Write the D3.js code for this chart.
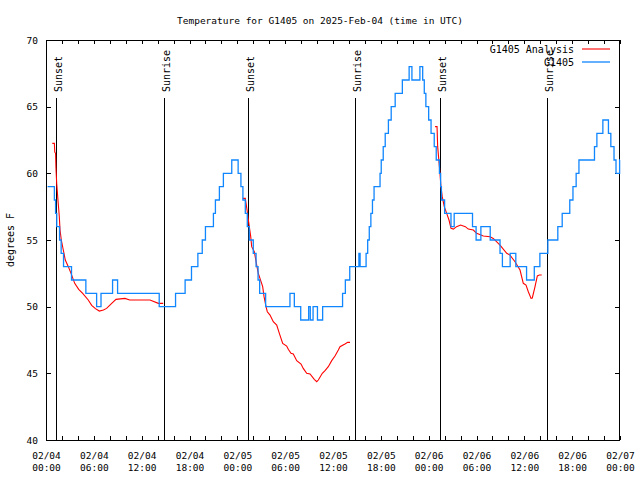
<!DOCTYPE html>
<html><head><meta charset="utf-8">
<script src="https://cdn.jsdelivr.net/npm/d3@7"></script>
<style>
body{margin:0;background:#fff}
svg{display:block;background:#fff}
text{font-family:"DejaVu Sans Mono","Liberation Mono",monospace;fill:#000}
</style>
</head><body>
<svg id="chart" width="640" height="480"></svg>
<script>
// ---------- data ----------
const chartTitle = "Temperature for G1405 on 2025-Feb-04 (time in UTC)";
const yAxisLabel = "degrees F";
const seriesNames = ["G1405 Analysis", "G1405"];
const seriesColors = ["#ff0000", "#1086ff"];
const startUTC = Date.UTC(2025, 1, 4, 0, 0);   // hours below are counted from here
const xDomainHours = [0, 72];
const yDomain = [40, 70];
const yTickValues = [40, 45, 50, 55, 60, 65, 70];
const xLabelHours = [0, 6, 12, 18, 24, 30, 36, 42, 48, 54, 60, 66, 72];
const xMinorHours = d3.range(0, 73, 2);
const sunEventNames = ["Sunset", "Sunrise", "Sunset", "Sunrise", "Sunset", "Sunrise"];
const sunEventHours = [1.28, 14.84, 25.36, 38.8, 49.41, 62.84];

// G1405 observations: [hour, °F] (value holds until next entry)
const observed = [
  [0.2,59],[1.05,58],[1.2,57],[1.35,56],[1.7,55],[1.9,54],[2.2,53],[3.2,52],[5.0,51],
  [6.35,50],[6.9,51],[8.35,52],[8.98,51],[14.2,50],[16.25,51],[17.45,52],[18.25,53],
  [19.05,54],[19.6,55],[20.0,56],[21.0,57],[21.25,58],[21.75,59],[22.25,60],[23.3,61],
  [24.1,60],[24.45,59],[24.7,58],[25.0,57],[25.25,56],[25.5,55],[26.0,54],[26.35,53],
  [26.6,52],[26.8,51],[27.55,50],[30.6,51],[31.15,50],[31.95,49],[32.95,50],[33.15,49],
  [33.5,50],[34.05,49],[34.7,50],[37.2,51],[37.55,52],[38.1,53],[39.25,54],[39.4,53],
  [40.15,54],[40.35,55],[40.55,56],[40.75,57],[40.95,58],[41.15,59],[41.9,60],[42.05,61],
  [42.3,62],[42.55,63],[42.95,64],[43.3,65],[43.8,66],[44.7,67],[45.55,68],[45.9,67],
  [46.9,68],[47.25,67],[47.45,66],[47.65,65],[48.0,64],[48.3,63],[48.7,62],[48.95,61],
  [49.35,60],[49.5,59],[49.6,58],[50.0,57],[50.8,56],[51.2,57],[53.5,56],[53.95,55],
  [54.55,56],[55.72,55],[56.95,54],[57.25,53],[58.22,54],[58.93,53],[60.28,52],[61.25,53],
  [61.95,54],[62.95,55],[64.2,56],[64.75,57],[65.7,58],[66.1,59],[66.5,60],[66.85,61],
  [68.8,62],[69.1,63],[69.85,64],[70.55,63],[70.85,62],[71.25,61],[71.5,60],[71.95,61],[72,61]
];

// G1405 Analysis: three runs of [hour, °F]
const analysisRun1 = [
  [0.79,62.25],[1.05,62.25],[1.1,61.6],[1.2,61.5],[1.25,60.4],[1.34,59.25],[1.5,58.0],
  [1.67,56.75],[1.76,55.75],[1.92,55.0],[2.17,54.25],[2.42,53.5],[2.8,53.0],[3.14,52.5],
  [3.6,51.75],[4.1,51.3],[4.6,51.0],[5.3,50.5],[5.73,50.1],[6.2,49.85],[6.69,49.67],
  [7.2,49.75],[7.6,49.87],[8.24,50.25],[8.78,50.55],[9.9,50.62],[10.5,50.5],[13.05,50.5],
  [14.09,50.25],[14.7,50.25]
];
const analysisRun2 = [
  [24.67,58.12],[25.0,58.12],[25.25,57.12],[25.5,56.0],[25.68,55.25],[25.8,54.5],[26.13,54.12],
  [26.43,53.12],[26.63,52.5],[26.84,52.12],[27.18,51.5],[27.35,50.75],[27.6,50.0],[27.76,49.62],
  [28.1,49.37],[28.51,48.87],[28.94,48.62],[29.27,48.0],[29.69,47.25],[30.19,47.05],[30.39,46.8],
  [30.73,46.5],[31.02,46.45],[31.45,45.95],[31.99,45.7],[32.27,45.37],[32.7,45.0],[33.12,44.95],
  [33.65,44.55],[33.96,44.37],[34.16,44.5],[34.66,45.0],[35.0,45.2],[35.41,45.5],[35.84,45.95],
  [36.25,46.3],[36.67,46.75],[36.88,47.0],[37.5,47.2],[37.84,47.32],[38.13,47.32]
];
const analysisRun3 = [
  [48.8,63.5],[49.05,63.5],[49.13,62.0],[49.42,60.0],[49.54,59.0],[49.7,58.25],[49.96,57.5],
  [50.26,57.0],[50.55,56.5],[50.8,55.87],[51.1,55.82],[51.5,56.0],[52.0,56.12],[52.6,56.0],
  [52.97,55.82],[53.6,55.75],[54.02,55.5],[54.86,55.3],[55.7,55.25],[56.1,55.12],[56.95,54.62],
  [57.79,54.0],[58.2,53.87],[58.83,53.37],[59.46,52.75],[59.87,51.75],[60.21,51.62],[60.5,51.12],
  [60.84,50.62],[61.0,50.65],[61.34,51.5],[61.63,52.3],[61.88,52.37],[62.18,52.37]
];
const analysisRuns = [analysisRun1, analysisRun2, analysisRun3];

// ---------- drawing ----------
const W = 640, H = 480;
const m = {left: 46, right: 20, top: 40, bottom: 40};
const toDate = h => new Date(startUTC + h * 3600e3);

const svg = d3.select("#chart");
const x = d3.scaleUtc().domain(xDomainHours.map(toDate)).range([m.left, W - m.right]);
const y = d3.scaleLinear().domain(yDomain).range([H - m.bottom, m.top]);

// title
svg.append("text").attr("x", 320).attr("y", 24).attr("text-anchor", "middle")
  .style("font-size", "9.5px").text(chartTitle);

// y label
svg.append("text").attr("transform", `translate(14,${(m.top + H - m.bottom) / 2}) rotate(-90)`)
  .attr("text-anchor", "middle").style("font-size", "10px").text(yAxisLabel);

// axes
const fmtDay = d3.utcFormat("%m/%d"), fmtTime = d3.utcFormat("%H:%M");
const gx = svg.append("g").attr("transform", `translate(0,${H - m.bottom})`)
  .call(d3.axisBottom(x).tickValues(xMinorHours.map(toDate)).tickSizeInner(-4).tickSizeOuter(0).tickFormat(""));
gx.select(".domain").remove();
const gxl = svg.append("g").attr("transform", `translate(0,${H - m.bottom})`)
  .call(d3.axisBottom(x).tickValues(xLabelHours.map(toDate)).tickSize(0).tickPadding(0));
gxl.select(".domain").remove();
gxl.selectAll(".tick text").each(function(d) {
  const t = d3.select(this).text("").attr("dy", null).attr("y", 0);
  t.append("tspan").attr("x", 0).attr("y", 18.5).text(fmtDay(d));
  t.append("tspan").attr("x", 0).attr("y", 31).text(fmtTime(d));
});
gxl.selectAll("text").style("font-size", "9.5px").style("font-family", '"DejaVu Sans Mono",monospace');

const gxt = svg.append("g").attr("transform", `translate(0,${m.top})`)
  .call(d3.axisTop(x).tickValues(xMinorHours.map(toDate)).tickSizeInner(-4).tickSizeOuter(0).tickFormat(""));
gxt.select(".domain").remove();

const gy = svg.append("g").attr("transform", `translate(${m.left},0)`)
  .call(d3.axisLeft(y).tickValues(yTickValues).tickSizeInner(-5).tickSizeOuter(0).tickPadding(8).tickFormat(d3.format("d")));
gy.select(".domain").remove();
gy.selectAll("text").style("font-size", "9.5px").style("font-family", '"DejaVu Sans Mono",monospace');
const gyr = svg.append("g").attr("transform", `translate(${W - m.right},0)`)
  .call(d3.axisRight(y).tickValues(yTickValues).tickSizeInner(-5).tickSizeOuter(0).tickFormat(""));
gyr.select(".domain").remove();
svg.selectAll(".tick line").attr("stroke", "#000").attr("shape-rendering", "crispEdges");

// frame
svg.append("rect").attr("x", m.left + 0.5).attr("y", m.top + 0.5)
  .attr("width", W - m.left - m.right - 1).attr("height", H - m.top - m.bottom)
  .attr("fill", "none").attr("stroke", "#000").attr("stroke-width", 1);

// sunrise / sunset markers
const sun = svg.append("g");
sunEventHours.forEach((h, i) => {
  const xp = Math.round(x(toDate(h))) + 0.5;
  sun.append("line").attr("x1", xp).attr("x2", xp).attr("y1", 98).attr("y2", H - m.bottom)
    .attr("stroke", "#000").attr("stroke-width", 1);
  sun.append("text").attr("transform", `translate(${xp + 5},92) rotate(-90)`)
    .style("font-size", "10px").text(sunEventNames[i]);
});

// series
const plot = svg.append("g");
const lineA = d3.line().x(d => x(toDate(d[0]))).y(d => y(d[1]));
analysisRuns.forEach(run => {
  plot.append("path").datum(run).attr("d", lineA)
    .attr("fill", "none").attr("stroke", seriesColors[0]).attr("stroke-width", 1.1);
});
const lineO = d3.line().x(d => x(toDate(d[0]))).y(d => y(d[1])).curve(d3.curveStepAfter);
plot.append("path").datum(observed).attr("d", lineO)
  .attr("fill", "none").attr("stroke", seriesColors[1]).attr("stroke-width", 1.3);

// legend
const leg = svg.append("g");
seriesNames.forEach((name, i) => {
  const ly = 49 + i * 13;
  leg.append("text").attr("x", 574).attr("y", ly + 4).attr("text-anchor", "end")
    .style("font-size", "10px").text(name);
  leg.append("line").attr("x1", 582).attr("x2", 610).attr("y1", ly).attr("y2", ly)
    .attr("stroke", seriesColors[i]).attr("stroke-width", i === 0 ? 1.1 : 1.3);
});
</script>
</body></html>
